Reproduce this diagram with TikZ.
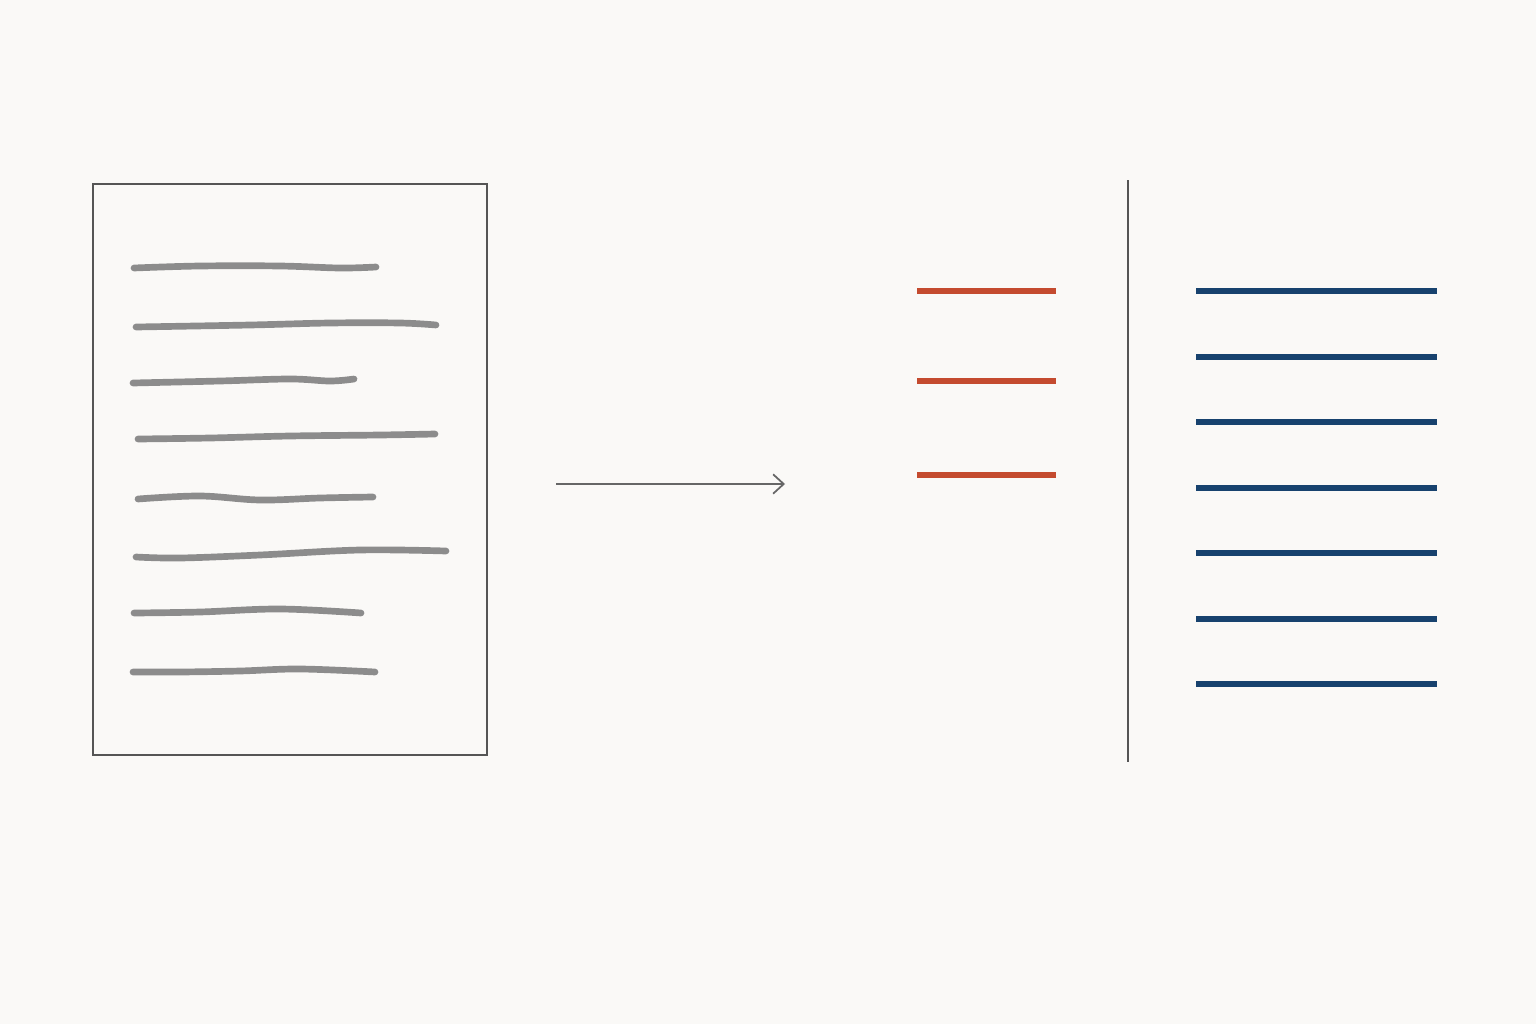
\documentclass[tikz,border=0pt]{standalone}
\usepackage{tikz}
\usetikzlibrary{arrows.meta}
\definecolor{paper}{HTML}{FAF9F7}
\definecolor{pencil}{HTML}{8C8C8C}
\definecolor{frame}{HTML}{555555}
\definecolor{rust}{HTML}{C44B2F}
\definecolor{navy}{HTML}{17426E}
\tikzset{
	scribble/.style={line width=1.9pt, color=pencil, line cap=round, line join=round},
	redbar/.style={line width=1.6pt, color=rust},
	bluebar/.style={line width=1.6pt, color=navy},
}
\begin{document}
\begin{tikzpicture}[x=0.01cm, y=-0.01cm]
		%%%%% START %%%%%
		
		\fill[paper] (0, 0) rectangle (1536, 1024);
		\useasboundingbox (0, 0) rectangle (1536, 1024);
		
		% page
		\draw[line width=0.5pt, color=frame] (93, 184) rectangle (487, 755);
		
		\draw[scribble] plot[smooth, tension=0.6] coordinates {(134,268) (200,266) (280,266) (340,268) (376,267)};
		\draw[scribble] plot[smooth, tension=0.6] coordinates {(136,327) (250,325) (330,323) (400,323) (436,325)};
		\draw[scribble] plot[smooth, tension=0.6] coordinates {(133,383) (220,381) (290,379) (330,381) (354,379)};
		\draw[scribble] plot[smooth, tension=0.6] coordinates {(138,439) (210,438) (290,436) (380,435) (435,434)};
		\draw[scribble] plot[smooth, tension=0.6] coordinates {(138,499) (200,496) (260,500) (320,498) (373,497)};
		\draw[scribble] plot[smooth, tension=0.6] coordinates {(136,557) (180,558) (260,555) (360,550) (446,551)};
		\draw[scribble] plot[smooth, tension=0.6] coordinates {(134,613) (200,612) (280,609) (361,613)};
		\draw[scribble] plot[smooth, tension=0.6] coordinates {(133,672) (180,672) (240,671) (300,669) (375,672)};
		
		% arrow
		\coordinate (arrowstart) at (556, 484);
		\coordinate (arrowend) at (785, 484);
		\draw[line width=0.5pt, color=frame!90, -{Straight Barb[length=3pt, width=5.5pt]}] (arrowstart) -- (arrowend);
		
		% short bars
		\foreach \y in {291, 381, 475}
			\draw[redbar] (917, \y) -- (1056, \y);
		
		% divider
		\draw[line width=0.5pt, color=frame] (1128, 180) -- (1128, 762);
		
		% long bars
		\foreach \y in {291, 357, 422, 488, 553, 619, 684}
			\draw[bluebar] (1196, \y) -- (1437, \y);
		
		%%%%% END %%%%%
	\end{tikzpicture}
\end{document}
